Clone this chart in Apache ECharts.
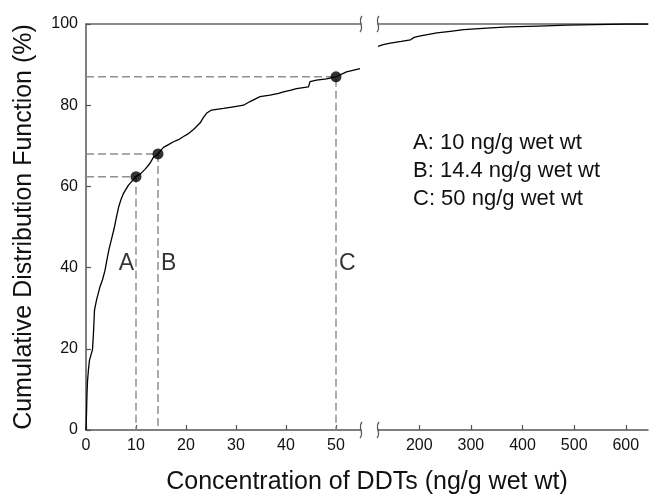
<!DOCTYPE html>
<html>
<head>
<meta charset="utf-8">
<script src="https://cdn.jsdelivr.net/npm/echarts@6/dist/echarts.min.js"></script>
<style>html,body{margin:0;padding:0;background:#fff;}#c{width:649px;height:497px;}</style>
</head>
<body>
<div id="c"></div>
<script>
// CDF values, low-concentration panel [concentration, cumulative %]
const cdfLow = [
  [0,0],[0.1,4],[0.2,9],[0.3,12],[0.5,15],[0.7,17.2],[1.0,18.5],[1.3,19.8],[1.5,24],[1.7,29.5],
  [2.1,32],[2.8,35.3],[3.3,37],[3.8,39.3],[4.2,42],[4.6,44.5],[5.1,47],[5.6,49.5],[6.1,52.5],
  [6.5,54.8],[7.0,56.8],[7.5,58.3],[8.5,60.3],[9.2,61.3],[10,62.4],[11,63.2],[11.8,64.2],
  [12.8,65.7],[13.5,67.2],[14.4,68],[15.5,69.6],[16.5,70.3],[17.5,71],[18.5,71.5],[19.5,72.3],
  [20.5,73],[21.5,74],[22.3,75],[22.8,75.6],[23.5,77],[24.1,78],[25.1,78.8],[27.5,79.2],
  [29.5,79.6],[31.5,80],[32.8,80.9],[34.8,82.1],[36.8,82.5],[38.5,82.9],[39.5,83.3],[41,83.7],
  [42.1,84.1],[44.5,84.5],[44.8,85.8],[46.1,86.2],[48.1,86.5],[50,87],[52.1,88.2],[54.8,89]
];
// CDF values, high-concentration panel
const cdfHigh = [
  [120,94.5],[130,94.9],[144,95.3],[165,95.7],[183,96.1],[190,96.7],[200,97],[234,97.8],
  [260,98.2],[286,98.6],[331,99],[373,99.3],[430,99.5],[486,99.7],[540,99.85],[600,100],[643,100]
];
// reference points A, B, C
const refNames = ['A', 'B', 'C'];
const refX = [10, 14.4, 50];
const refY = [62.4, 68, 87];
const legendLines = ['A: 10 ng/g wet wt', 'B: 14.4 ng/g wet wt', 'C: 50 ng/g wet wt'];
// ticks
const yTicks = [0, 20, 40, 60, 80, 100];
const lowXTicks = [0, 10, 20, 30, 40, 50];
const highXTicks = [200, 300, 400, 500, 600];
const lowRange = [0, 55];
const highRange = [120, 643];
const refLabelY = 41;

const FONT = 'Liberation Sans, Arial, Helvetica, sans-serif';
const AX = '#555';

const chart = echarts.init(document.getElementById('c'), null, {renderer: 'canvas'});

function bottomAxis(gi, range, ticks) {
  return {
    type: 'value', gridIndex: gi, position: 'bottom', min: range[0], max: range[1],
    axisLine: {show: true, lineStyle: {color: AX, width: 1.5}},
    axisTick: {show: true, inside: true, length: 5, lineStyle: {color: AX, width: 1.2}, customValues: ticks},
    axisLabel: {show: true, fontSize: 16, color: '#111', fontFamily: FONT, margin: 8, customValues: ticks},
    splitLine: {show: false}
  };
}
function topAxis(gi, range) {
  return {
    type: 'value', gridIndex: gi, position: 'top', min: range[0], max: range[1],
    axisLine: {show: true, lineStyle: {color: '#666', width: 1.5}},
    axisTick: {show: false}, axisLabel: {show: false}, splitLine: {show: false}
  };
}

const series = [
  {type: 'line', xAxisIndex: 0, yAxisIndex: 0, data: cdfLow, showSymbol: false, silent: true,
   lineStyle: {color: '#000', width: 1.3}, z: 4},
  {type: 'line', xAxisIndex: 1, yAxisIndex: 1, data: cdfHigh, showSymbol: false, silent: true,
   lineStyle: {color: '#000', width: 1.3}, z: 4}
];
refX.forEach((x, i) => {
  series.push({
    type: 'line', xAxisIndex: 0, yAxisIndex: 0, showSymbol: false, silent: true,
    data: [[lowRange[0], refY[i]], [x, refY[i]], [x, 0]],
    lineStyle: {color: '#8f8f8f', width: 1.5, type: [8, 4]}, z: 2
  });
});
series.push({
  type: 'scatter', xAxisIndex: 0, yAxisIndex: 0, symbolSize: 11, silent: true,
  itemStyle: {color: '#000'}, z: 6,
  data: refX.map((x, i) => [x, refY[i]])
});
series.push({
  type: 'scatter', xAxisIndex: 0, yAxisIndex: 0, symbolSize: 0, silent: true, z: 6,
  data: refX.map((x, i) => ({
    value: [x, refLabelY], name: refNames[i],
    label: {show: true, formatter: refNames[i], position: i === 0 ? 'left' : 'right',
      distance: i === 0 ? 2 : 3, fontSize: 23, color: '#000', fontFamily: FONT}
  }))
});

chart.setOption({
  animation: false,
  backgroundColor: '#fff',
  grid: [
    {left: 86, top: 24, width: 275, height: 406},
    {left: 378, top: 24, width: 270, height: 406}
  ],
  xAxis: [
    bottomAxis(0, lowRange, lowXTicks),
    bottomAxis(1, highRange, highXTicks),
    topAxis(0, lowRange),
    topAxis(1, highRange)
  ],
  yAxis: [
    {type: 'value', gridIndex: 0, min: 0, max: 100, interval: 20,
     axisLine: {show: true, lineStyle: {color: AX, width: 1.5}},
     axisTick: {show: true, inside: true, length: 5, lineStyle: {color: AX, width: 1.2}},
     axisLabel: {fontSize: 16, color: '#111', fontFamily: FONT, margin: 8},
     splitLine: {show: false},
     name: 'Cumulative Distribution Function (%)', nameLocation: 'middle', nameGap: 49,
     nameTextStyle: {fontSize: 25, color: '#111', fontFamily: FONT}},
    {type: 'value', gridIndex: 1, min: 0, max: 100, show: false}
  ],
  series: series
});

// axis title, legend text and break marks
const g = [];
g.push({type: 'text', x: 367, y: 482, style: {text: 'Concentration of DDTs (ng/g wet wt)',
  fontSize: 25, fill: '#111', fontFamily: FONT, align: 'center', verticalAlign: 'middle'}});
legendLines.forEach((t, i) => {
  g.push({type: 'text', x: 413, y: 143 + i * 28, style: {text: t, fontSize: 22, fill: '#111',
    fontFamily: FONT, align: 'left', verticalAlign: 'middle'}});
});
const xl = chart.convertToPixel({xAxisIndex: 0}, lowRange[1]);
const xr = chart.convertToPixel({xAxisIndex: 1}, highRange[0]);
const yT = chart.convertToPixel({yAxisIndex: 0}, 100);
const yB = chart.convertToPixel({yAxisIndex: 0}, 0);
[[xl, yT], [xr, yT], [xl, yB], [xr, yB]].forEach(([x, y]) => {
  g.push({type: 'bezierCurve', shape: {x1: x + 1, y1: y - 8, x2: x - 1, y2: y + 8,
    cpx1: x - 4, cpy1: y - 2, cpx2: x + 4, cpy2: y + 2},
    style: {stroke: AX, lineWidth: 1.2, fill: null}, z: 10});
});
chart.setOption({graphic: g});
</script>
</body>
</html>
